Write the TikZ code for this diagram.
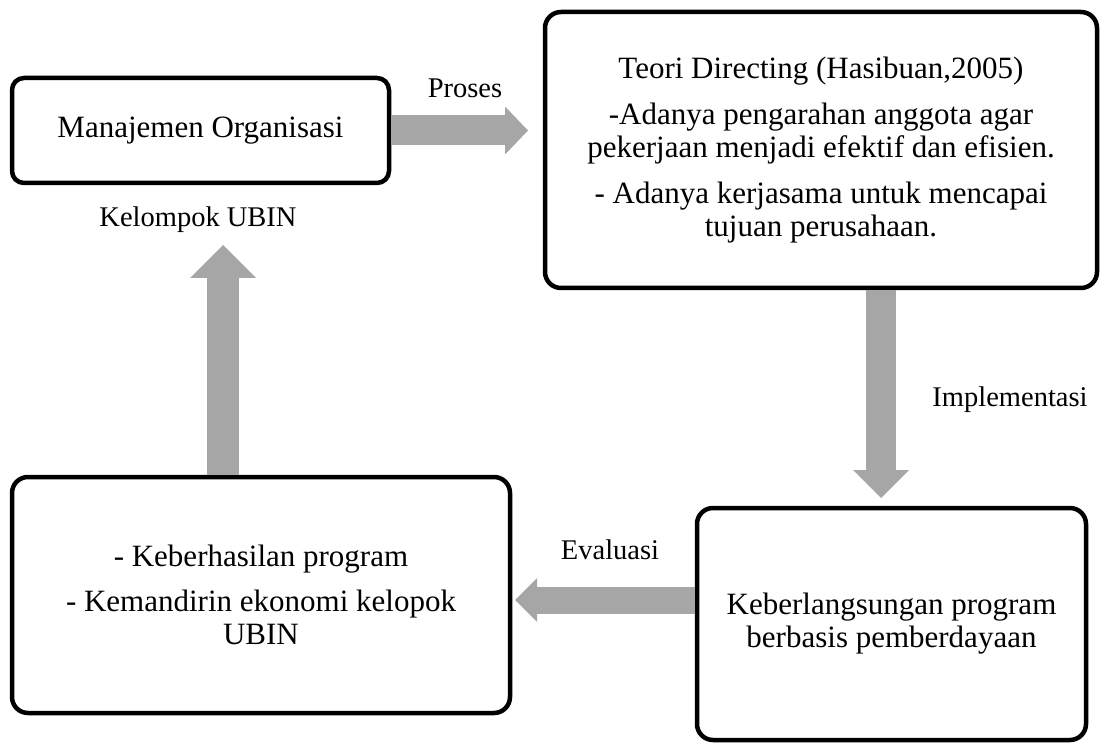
\documentclass[tikz,border=0pt]{standalone}
\usepackage{fontspec}
\setmainfont{Liberation Serif}
\usetikzlibrary{arrows.meta,calc}
\definecolor{arrowgray}{RGB}{166,166,166}

\begin{document}
\begin{tikzpicture}[
    x=1pt, y=-1pt,
    box/.style={draw=black, line width=4.5pt, rounded corners=16pt, fill=white, align=center, inner sep=0pt, font=\fontsize{31}{33}\selectfont},
    caption/.style={font=\fontsize{28.5}{31}\selectfont, inner sep=0pt},
    flow/.style n args={3}{line width=#1, arrowgray, -{Triangle[width=#2, length=#3, line width=0pt]}},
]
\useasboundingbox (0,0) rectangle (1101,743);
\node[box, minimum width=377pt, minimum height=105pt, rounded corners=12pt] (orga) at (200.5,130.5) {Manajemen Organisasi};
\node[box, minimum width=552pt, minimum height=276pt] (teori) at (821,150) {Teori Directing (Hasibuan,2005)\\[13pt]-Adanya pengarahan anggota agar\\pekerjaan menjadi efektif dan efisien.\\[13pt]- Adanya kerjasama untuk mencapai\\tujuan perusahaan.};
\node[box, minimum width=389pt, minimum height=232pt] (lanjut) at (891.5,624) {Keberlangsungan program\\berbasis pemberdayaan};
\node[box, minimum width=498pt, minimum height=236pt] (hasil) at (261,595) {- Keberhasilan program\\[12pt]- Kemandirin ekonomi kelopok\\UBIN};
\node[caption] (proses) at (465,88) {Proses};
\node[caption] (kelompok) at (198,220) {Kelompok UBIN};
\node[caption] (implementasi) at (1010,400) {Implementasi};
\node[caption] (evaluasi) at (610,550) {Evaluasi};
\coordinate (righttip) at (528,131);
\coordinate (downtip) at (881,498);
\coordinate (lefttip) at (515,600);
\coordinate (uptip) at (223,245);
\draw[flow={30pt}{48pt}{23pt}] (orga.east) -- (orga.east -| righttip);
\draw[flow={30pt}{56pt}{28pt}] (downtip |- teori.south) -- (downtip);
\draw[flow={27pt}{44pt}{22pt}] (lefttip -| lanjut.west) -- (lefttip);
\draw[flow={32pt}{66pt}{33pt}] (uptip |- hasil.north) -- (uptip);
\end{tikzpicture}
\end{document}
